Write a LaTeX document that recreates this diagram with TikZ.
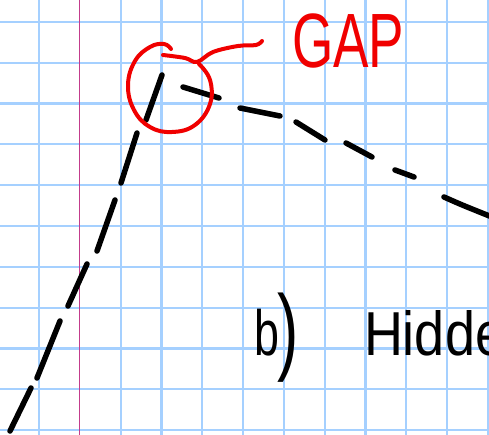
\documentclass[tikz,border=0pt]{standalone}
\usepackage{fontspec}
\setmainfont{Liberation Sans}
\definecolor{gridblue}{RGB}{165,208,255}
\definecolor{marginline}{RGB}{195,60,140}
\definecolor{redink}{RGB}{240,0,0}

\begin{document}
\begin{tikzpicture}[
  x=1pt,y=-1pt,
  gridline/.style ={gridblue,line width=2.2pt},
  inkdash/.style  ={black,line width=5.5pt,line cap=round},
  redstroke/.style={redink,line width=4pt,line cap=round,line join=round},
  hand/.style     ={inner sep=0pt,outer sep=0pt},
]
\useasboundingbox (0,0) rectangle (489,435);
\fill[white] (0,0) rectangle (489,435);

%% ===== Graph paper ==========================================================
\foreach \i in {0,2,3,...,11}
  \draw[gridline] (39+40.8*\i,0) -- (39+40.8*\i,435);
\foreach \j in {0,...,10}
  \draw[gridline] (0,22+40.8*\j) -- (489,22+40.8*\j);
\draw[marginline,line width=1.3pt] (79.8,0) -- (79.8,435);

%% ===== Dashed curve, rising part ============================================
\foreach \xa/\ya/\xb/\yb in {10/431/31/388, 37/378/60/321, 68/306/87/264,
                             97/251/115/200, 121/183/137/133, 146/120/162/75}
  \draw[inkdash] (\xa,\ya) -- (\xb,\yb);

%% ===== Dashed curve, falling part ===========================================
\foreach \xa/\ya/\xb/\yb in {183/87/219/98, 240/108/280/116, 296/122/325/140,
                             346/143/372/157, 395/170/414/177}
  \draw[inkdash] (\xa,\ya) -- (\xb,\yb);
\draw[inkdash] (444,197) .. controls (462,205) .. (492,217);

%% ===== Red circle and pointer ===============================================
\draw[redstroke] plot[smooth,tension=0.7] coordinates {
  (171,49) (164,44) (150,47) (135,61) (128,85) (134,110) (150,127)
  (172,132) (195,125) (210,104) (210,80) (199,64)};
\draw[redstroke] plot[smooth,tension=0.6] coordinates {
  (163,55) (185,58) (197,62) (213,52) (238,46) (256,45) (262,41)};

%% ===== Labels ===============================================================
\node[hand,redink,anchor=base west,xscale=0.69,
      font=\fontsize{77}{77}\selectfont] (gap) at (292,68) {GAP};
\node[hand,anchor=base west,xscale=0.7,
      font=\fontsize{64}{64}\selectfont] (partb) at (254,355) {b};
\node[hand,anchor=south west,yscale=1.5,
      font=\fontsize{64}{64}\selectfont] (paren) at (277,382) {)};
\node[hand,anchor=base west,yscale=1.15,
      font=\fontsize{54}{54}\selectfont] (hidden) at (364,355) {Hidde};

\end{tikzpicture}
\end{document}
